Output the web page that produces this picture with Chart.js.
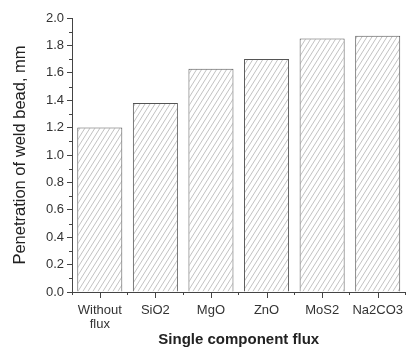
<!DOCTYPE html>
<html>
<head>
<meta charset="utf-8">
<script src="https://cdn.jsdelivr.net/npm/chart.js@4"></script>
<style>
  body { margin: 0; background: #fff; }
  #c { display: block; }
</style>
</head>
<body>
<canvas id="c" width="411" height="352"></canvas>
<script>
const categories = [['Without', 'flux'], 'SiO2', 'MgO', 'ZnO', 'MoS2', 'Na2CO3'];
const penetration = [1.20, 1.38, 1.63, 1.70, 1.85, 1.87];
const yMin = 0, yMax = 2.0, yStep = 0.2;

// hatch fill, like the original
function hatch() {
    const w = 5, h = 8;
    const pc = document.createElement('canvas');
    pc.width = w; pc.height = h;
    const p = pc.getContext('2d');
    p.fillStyle = '#fff';
    p.fillRect(0, 0, w, h);
    p.strokeStyle = '#c2c2c2';
    p.lineWidth = 1;
    p.beginPath();
    p.moveTo(-w, 2 * h); p.lineTo(2 * w, -h);
    p.moveTo(-2 * w, 2 * h); p.lineTo(w, -h);
    p.moveTo(0, 2 * h); p.lineTo(3 * w, -h);
    p.stroke();
    return p.createPattern(pc, 'repeat');
}

// minor ticks on y, centre ticks on x
const extraTicks = {
    id: 'extraTicks',
    afterDraw(chart) {
        const ctx = chart.ctx, y = chart.scales.y, x = chart.scales.x;
        ctx.save();
        ctx.strokeStyle = '#444';
        ctx.lineWidth = 1;
        ctx.beginPath();
        for (let v = yMin + yStep / 2; v < yMax; v += yStep) {
            const py = Math.round(y.getPixelForValue(v)) + 0.5;
            ctx.moveTo(y.right - 3, py); ctx.lineTo(y.right, py);
        }
        categories.forEach((c, i) => {
            const px = Math.round(x.getPixelForValue(i)) + 0.5;
            ctx.moveTo(px, x.top); ctx.lineTo(px, x.top + 6);
        });
        ctx.stroke();
        ctx.restore();
    }
};

new Chart(document.getElementById('c'), {
    type: 'bar',
    data: {
        labels: categories,
        datasets: [{
            data: penetration,
            backgroundColor: hatch(),
            borderColor: '#555',
            borderWidth: 1,
            barPercentage: 0.81,
            categoryPercentage: 1
        }]
    },
    options: {
        responsive: false,
        animation: false,
        layout: { padding: { top: 18, right: 0, left: 0, bottom: 0 } },
        plugins: { legend: { display: false }, tooltip: { enabled: false } },
        scales: {
            x: {
                afterFit(s) { s.height = 60; },
                grid: { display: true, drawOnChartArea: false, tickLength: 3, color: '#444' },
                border: { display: true, color: '#444', width: 1 },
                ticks: {
                    color: '#333',
                    font: { family: 'Liberation Sans, Arial', size: 13, lineHeight: 1.1 },
                    padding: 8,
                    maxRotation: 0,
                    autoSkip: false
                },
                title: {
                    display: true,
                    text: 'Single component flux',
                    color: '#222',
                    font: { family: 'Liberation Sans, Arial', size: 15, weight: 'bold' },
                    padding: { top: 0, bottom: 3 }
                }
            },
            y: {
                min: yMin,
                max: yMax,
                afterFit(s) { s.width = 72; },
                grid: { display: true, drawOnChartArea: false, tickLength: 5, color: '#444' },
                border: { display: true, color: '#444', width: 1 },
                ticks: {
                    stepSize: yStep,
                    color: '#333',
                    padding: 3,
                    font: { family: 'Liberation Sans, Arial', size: 13 },
                    callback: v => v.toFixed(1)
                },
                title: {
                    display: true,
                    text: 'Penetration of weld bead, mm',
                    color: '#222',
                    font: { family: 'Liberation Sans, Arial', size: 16.5, lineHeight: 1.2 },
                    padding: { top: 11, bottom: 0 }
                }
            }
        }
    },
    plugins: [extraTicks]
});
</script>
</body>
</html>
